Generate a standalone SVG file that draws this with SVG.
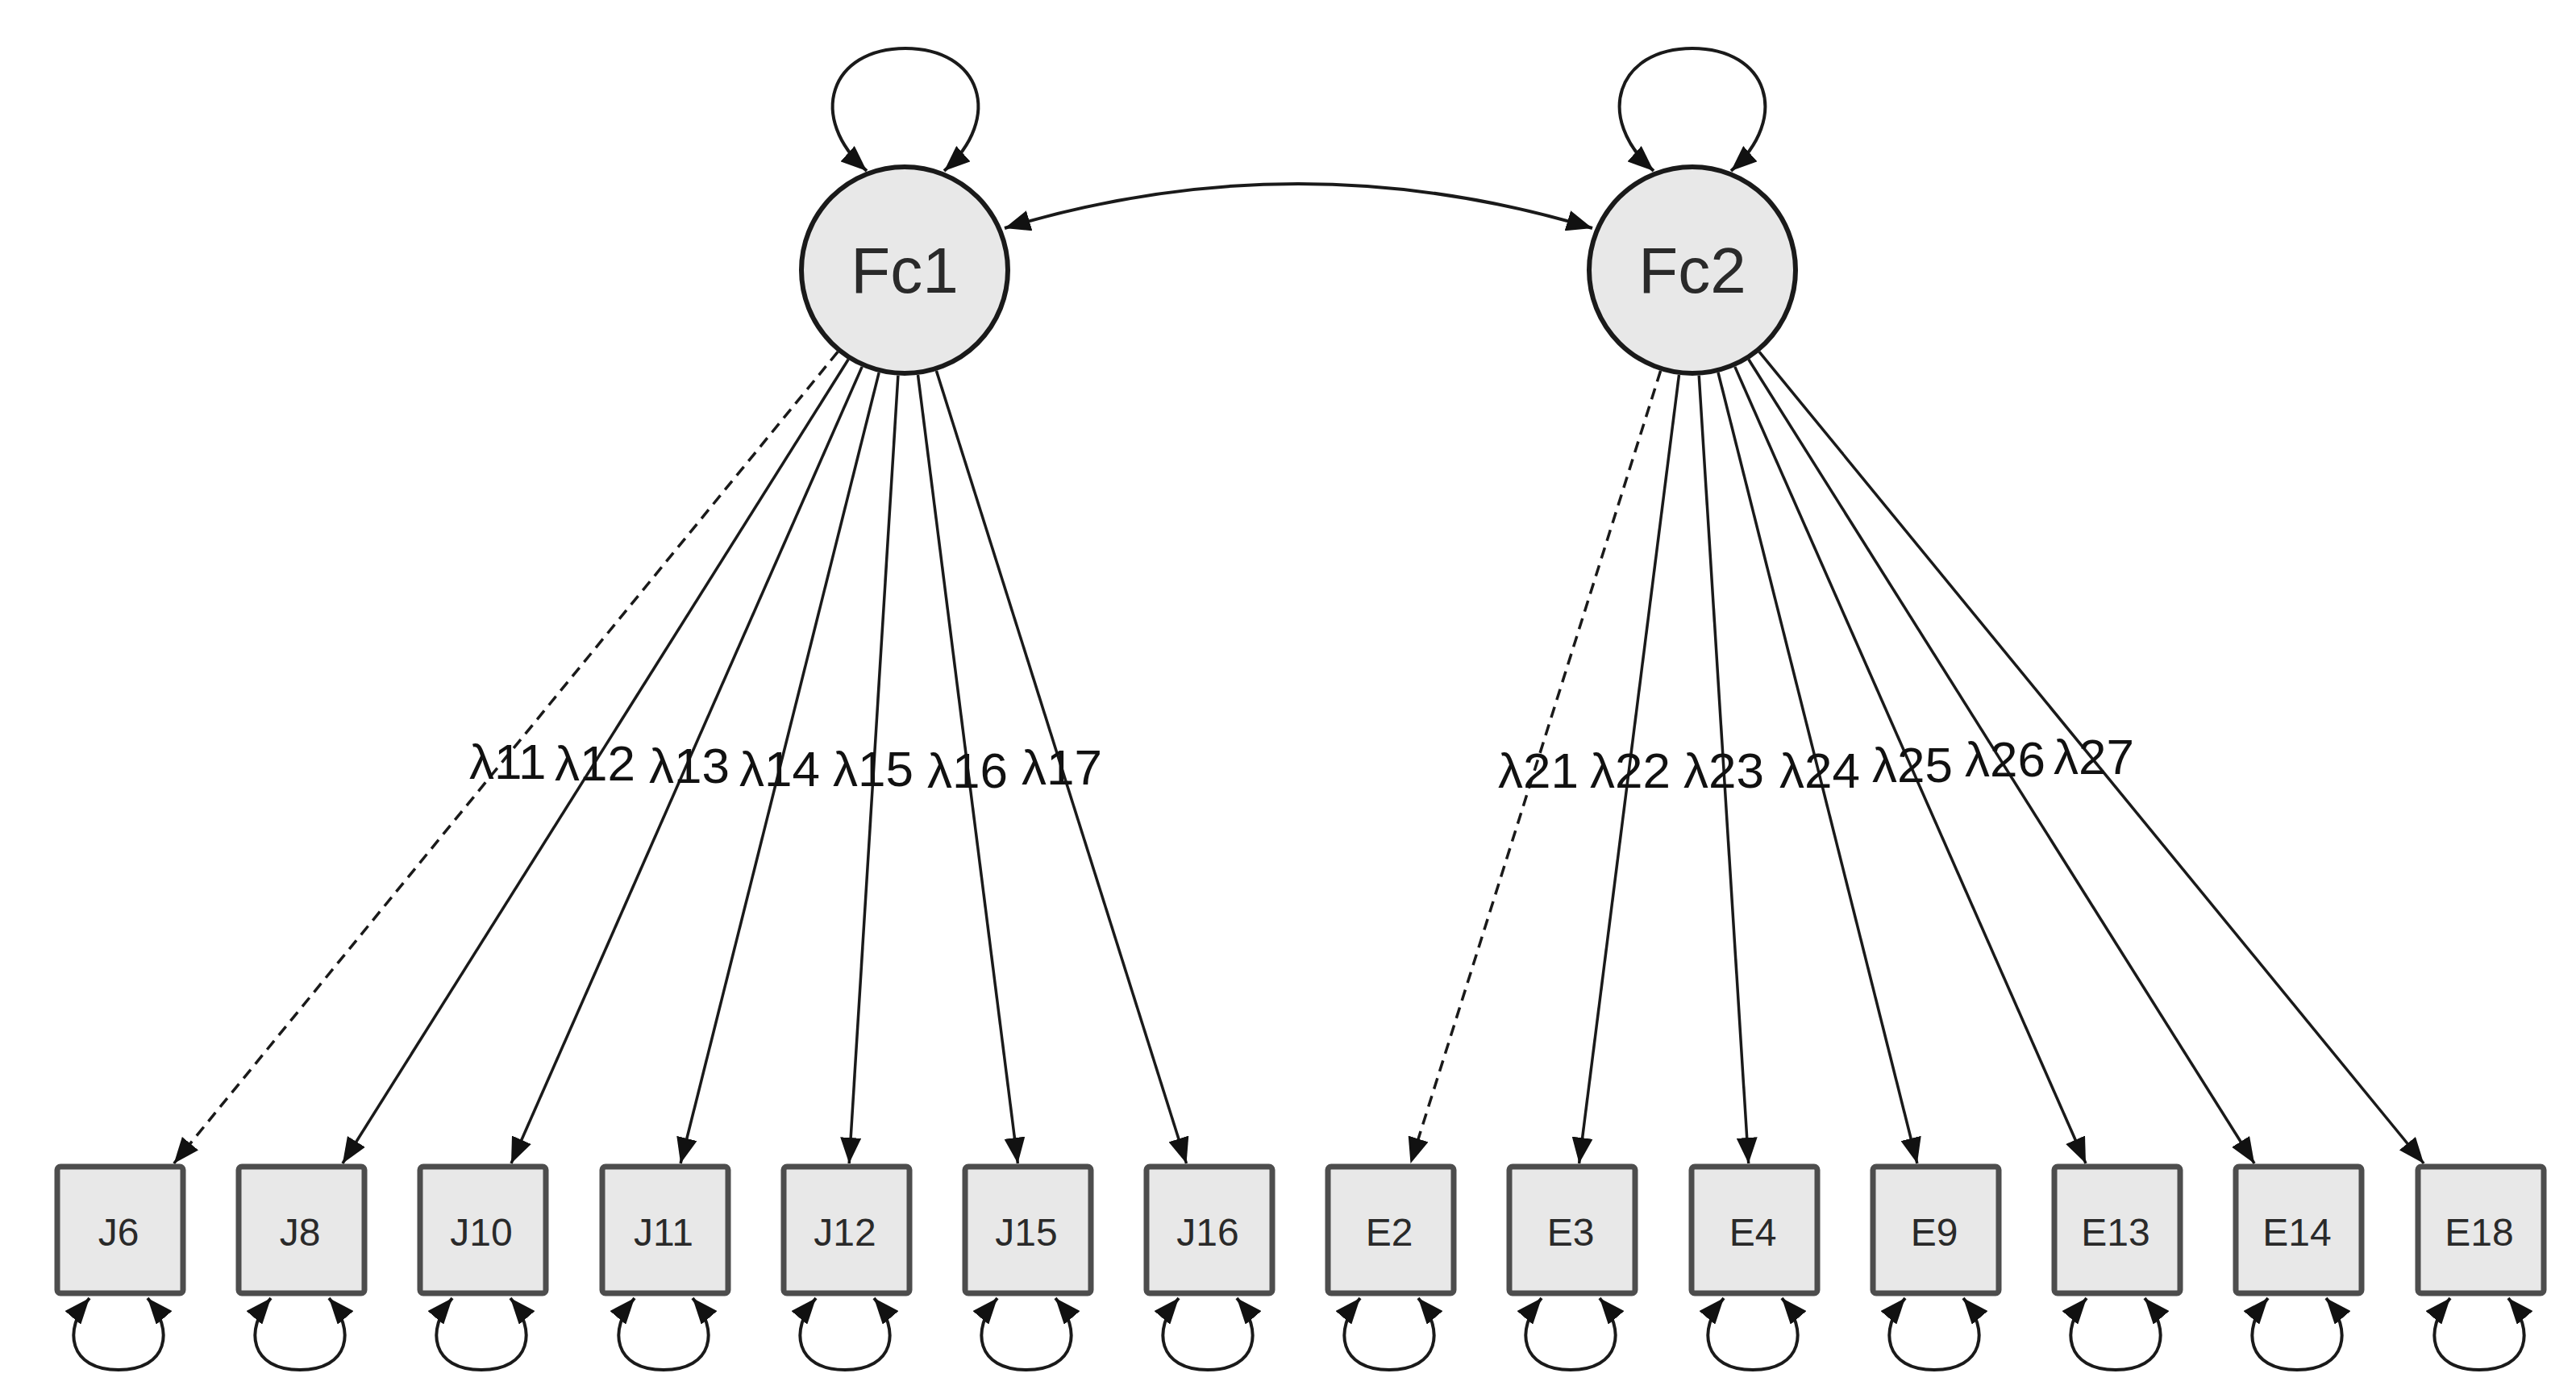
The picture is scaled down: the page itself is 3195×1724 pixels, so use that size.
<svg xmlns="http://www.w3.org/2000/svg" width="3195" height="1724" viewBox="0 0 3195 1724">
<defs>
<marker id="ah" markerUnits="userSpaceOnUse" markerWidth="32" markerHeight="26" refX="32" refY="13" orient="auto-start-reverse">
<path d="M0,0 L32,13 L0,26 z" fill="#111"/>
</marker>
<style>
.lat{fill:#e8e8e8;stroke:#1a1a1a;stroke-width:6}
.obs{fill:#e8e8e8;stroke:#4d4d4d;stroke-width:7}
.ln{fill:none;stroke:#1a1a1a;stroke-width:3.5;marker-end:url(#ah)}
.dash{stroke-dasharray:14 9}
.loop{fill:none;stroke:#1a1a1a;stroke-width:4;marker-start:url(#ah);marker-end:url(#ah)}
.lt{font-family:"Liberation Sans",Arial,sans-serif;font-size:80px;fill:#2a2a2a;text-anchor:middle}
.ot{font-family:"Liberation Sans",Arial,sans-serif;font-size:48px;fill:#2a2a2a;text-anchor:middle}
.lam{font-family:"Liberation Sans",Arial,sans-serif;font-size:62px;fill:#111}
</style>
</defs>
<rect width="3195" height="1724" fill="#fff"/>

<g id="connectors">
<path class="loop" d="M1075,212 C1000,145 1030,60 1123,60 C1216,60 1246,145 1171,212"/>
<path class="loop" d="M2051,212 C1976,145 2006,60 2099,60 C2192,60 2222,145 2147,212"/>
<path class="loop" d="M1246,283 Q1610,173 1975,283"/>

<line class="ln dash" x1="1039.1" y1="436.4" x2="215.7" y2="1443"/>
<line class="ln" x1="1052.2" y1="445.8" x2="424.9" y2="1443"/>
<line class="ln" x1="1069.2" y1="454.9" x2="634.0" y2="1443"/>
<line class="ln" x1="1090.2" y1="462.1" x2="844.1" y2="1443"/>
<line class="ln" x1="1113.9" y1="465.7" x2="1053.2" y2="1443"/>
<line class="ln" x1="1138.5" y1="465.0" x2="1262.4" y2="1443"/>
<line class="ln" x1="1161.4" y1="459.9" x2="1471.5" y2="1443"/>

<line class="ln dash" x1="2059.6" y1="459.9" x2="1749.5" y2="1443"/>
<line class="ln" x1="2082.5" y1="465.0" x2="1958.6" y2="1443"/>
<line class="ln" x1="2107.2" y1="465.7" x2="2168.7" y2="1443"/>
<line class="ln" x1="2131.0" y1="462.0" x2="2377.9" y2="1443"/>
<line class="ln" x1="2151.8" y1="454.9" x2="2587.0" y2="1443"/>
<line class="ln" x1="2168.8" y1="445.8" x2="2796.1" y2="1443"/>
<line class="ln" x1="2182.0" y1="436.4" x2="3006.2" y2="1443"/>

<path class="loop" d="M111,1610 C77,1650 86,1699 147,1699 C208,1699 217,1650 183,1610"/>
<path class="loop" d="M336,1610 C302,1650 311,1699 372,1699 C433,1699 442,1650 408,1610"/>
<path class="loop" d="M561,1610 C527,1650 536,1699 597,1699 C658,1699 667,1650 633,1610"/>
<path class="loop" d="M787,1610 C753,1650 762,1699 823,1699 C884,1699 893,1650 859,1610"/>
<path class="loop" d="M1012,1610 C978,1650 987,1699 1048,1699 C1109,1699 1118,1650 1084,1610"/>
<path class="loop" d="M1237,1610 C1203,1650 1212,1699 1273,1699 C1334,1699 1343,1650 1309,1610"/>
<path class="loop" d="M1462,1610 C1428,1650 1437,1699 1498,1699 C1559,1699 1568,1650 1534,1610"/>
<path class="loop" d="M1687,1610 C1653,1650 1662,1699 1723,1699 C1784,1699 1793,1650 1759,1610"/>
<path class="loop" d="M1912,1610 C1878,1650 1887,1699 1948,1699 C2009,1699 2018,1650 1984,1610"/>
<path class="loop" d="M2138,1610 C2104,1650 2113,1699 2174,1699 C2235,1699 2244,1650 2210,1610"/>
<path class="loop" d="M2363,1610 C2329,1650 2338,1699 2399,1699 C2460,1699 2469,1650 2435,1610"/>
<path class="loop" d="M2588,1610 C2554,1650 2563,1699 2624,1699 C2685,1699 2694,1650 2660,1610"/>
<path class="loop" d="M2813,1610 C2779,1650 2788,1699 2849,1699 C2910,1699 2919,1650 2885,1610"/>
<path class="loop" d="M3039,1610 C3005,1650 3014,1699 3075,1699 C3136,1699 3145,1650 3111,1610"/>

<g id="loadings">
<text class="lam" x="582" y="966">λ11</text>
<text class="lam" x="688" y="968">λ12</text>
<text class="lam" x="805" y="971">λ13</text>
<text class="lam" x="917" y="975">λ14</text>
<text class="lam" x="1033" y="975">λ15</text>
<text class="lam" x="1150" y="977">λ16</text>
<text class="lam" x="1267" y="973">λ17</text>
<text class="lam" x="1858" y="977">λ21</text>
<text class="lam" x="1972" y="977">λ22</text>
<text class="lam" x="2088" y="977">λ23</text>
<text class="lam" x="2207" y="977">λ24</text>
<text class="lam" x="2322" y="970">λ25</text>
<text class="lam" x="2437" y="963">λ26</text>
<text class="lam" x="2547" y="960">λ27</text>
</g>
</g>

<g id="Fc1"><circle class="lat" cx="1122" cy="335" r="128"/><text class="lt" x="1122" y="363">Fc1</text></g>
<g id="Fc2"><circle class="lat" cx="2099" cy="335" r="128"/><text class="lt" x="2099" y="363">Fc2</text></g>

<g id="J6"><rect class="obs" x="71" y="1447" width="156" height="157" rx="4"/><text class="ot" x="147" y="1545">J6</text></g>
<g id="J8"><rect class="obs" x="296" y="1447" width="156" height="157" rx="4"/><text class="ot" x="372" y="1545">J8</text></g>
<g id="J10"><rect class="obs" x="521" y="1447" width="156" height="157" rx="4"/><text class="ot" x="597" y="1545">J10</text></g>
<g id="J11"><rect class="obs" x="747" y="1447" width="156" height="157" rx="4"/><text class="ot" x="823" y="1545">J11</text></g>
<g id="J12"><rect class="obs" x="972" y="1447" width="156" height="157" rx="4"/><text class="ot" x="1048" y="1545">J12</text></g>
<g id="J15"><rect class="obs" x="1197" y="1447" width="156" height="157" rx="4"/><text class="ot" x="1273" y="1545">J15</text></g>
<g id="J16"><rect class="obs" x="1422" y="1447" width="156" height="157" rx="4"/><text class="ot" x="1498" y="1545">J16</text></g>
<g id="E2"><rect class="obs" x="1647" y="1447" width="156" height="157" rx="4"/><text class="ot" x="1723" y="1545">E2</text></g>
<g id="E3"><rect class="obs" x="1872" y="1447" width="156" height="157" rx="4"/><text class="ot" x="1948" y="1545">E3</text></g>
<g id="E4"><rect class="obs" x="2098" y="1447" width="156" height="157" rx="4"/><text class="ot" x="2174" y="1545">E4</text></g>
<g id="E9"><rect class="obs" x="2323" y="1447" width="156" height="157" rx="4"/><text class="ot" x="2399" y="1545">E9</text></g>
<g id="E13"><rect class="obs" x="2548" y="1447" width="156" height="157" rx="4"/><text class="ot" x="2624" y="1545">E13</text></g>
<g id="E14"><rect class="obs" x="2773" y="1447" width="156" height="157" rx="4"/><text class="ot" x="2849" y="1545">E14</text></g>
<g id="E18"><rect class="obs" x="2999" y="1447" width="156" height="157" rx="4"/><text class="ot" x="3075" y="1545">E18</text></g>
</svg>
